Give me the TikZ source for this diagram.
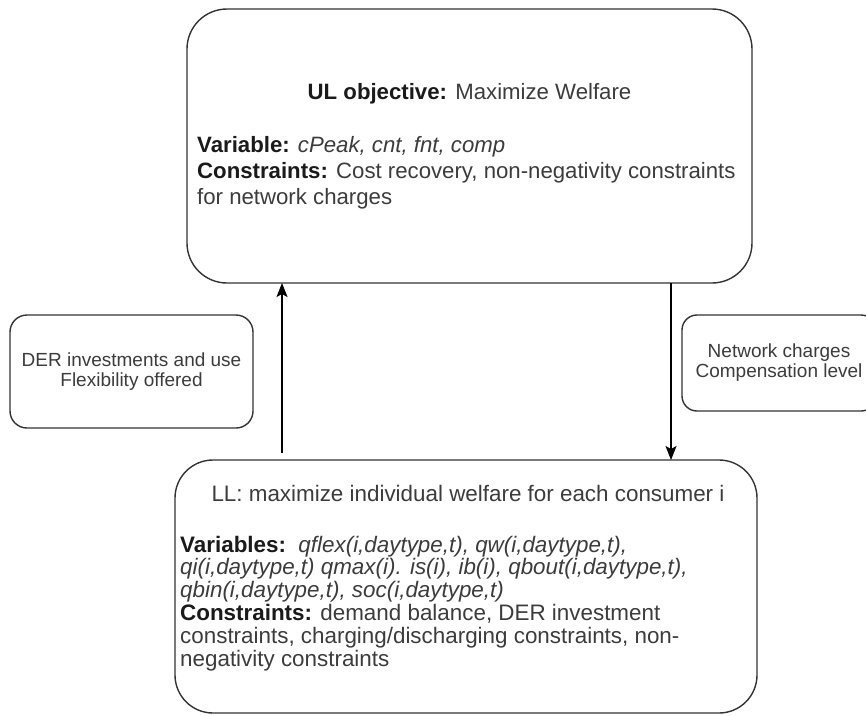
\documentclass[tikz,border=0pt]{standalone}
\usepackage{fontspec}
\setmainfont{Liberation Sans}
\usetikzlibrary{arrows.meta}
\definecolor{edge}{HTML}{333333}
\definecolor{txt}{HTML}{3C3C3C}
\definecolor{bold}{HTML}{1A1A1A}
\begin{document}
\begin{tikzpicture}[x=1pt,y=-1pt,
  box/.style={draw=edge, line width=1.4pt, fill=white, inner sep=0pt, outer sep=0pt},
  bigtext/.style={text=txt, inner sep=0pt, font=\fontsize{22.2}{26}\selectfont},
  lltext/.style={text=txt, inner sep=0pt, font=\fontsize{22.4}{22.8}\selectfont},
  smalltext/.style={text=txt, align=center, font=\fontsize{19}{20}\selectfont},
  arr/.style={draw=black, line width=1.3pt, -{Stealth[length=14pt,width=11pt,inset=3pt]}}
]
\useasboundingbox (0,0) rectangle (866,715);
\clip (0,0) rectangle (866,715);
\fill[white] (0,0) rectangle (866,715);

% upper level box
\node[box, rounded corners=40pt, minimum width=565pt, minimum height=274pt] (ul) at (469.5,146) {};
\node[bigtext, anchor=base] (ultitle) at (469.5,99) {\textcolor{bold}{\textbf{UL objective:}} Maximize Welfare};
\node[bigtext, anchor=base west] (ulbody) at (197,152) {\parbox[t]{550pt}{%
  \textcolor{bold}{\textbf{Variable:}} \textit{cPeak, cnt, fnt, comp}\\
  \textcolor{bold}{\textbf{Constraints:}} Cost recovery, non-negativity constraints\\
  for network charges}};

% lower level box
\node[box, rounded corners=38pt, minimum width=582pt, minimum height=253pt] (ll) at (466,586.5) {};
\node[lltext, anchor=base] (lltitle) at (468,501) {LL: maximize individual welfare for each consumer i};
\node[lltext, anchor=base west] (llbody) at (180,552) {\parbox[t]{570pt}{%
  \textcolor{bold}{\textbf{Variables:}}\ \ \textit{qflex(i,daytype,t), qw(i,daytype,t),}\\
  \textit{qi(i,daytype,t) qmax(i). is(i), ib(i), qbout(i,daytype,t),}\\
  \textit{qbin(i,daytype,t), soc(i,daytype,t)}\\
  \textcolor{bold}{\textbf{Constraints:}} demand balance, DER investment\\
  constraints, charging/discharging constraints, non-\\
  negativity constraints}};

% side boxes
\node[box, rounded corners=17pt, minimum width=243pt, minimum height=113pt, smalltext] (der) at (131.5,371.5) {DER investments and use\\Flexibility offered};
\node[box, rounded corners=15pt, minimum width=194pt, minimum height=96pt, smalltext] (net) at (779,363) {Network charges\\Compensation level};

% connectors
\coordinate (upstart) at (282,453);
\coordinate (downx) at (671,0);
\draw[arr] (upstart) -- (upstart |- ul.south);
\draw[arr] (downx |- ul.south) -- (downx |- ll.north);
\end{tikzpicture}
\end{document}
